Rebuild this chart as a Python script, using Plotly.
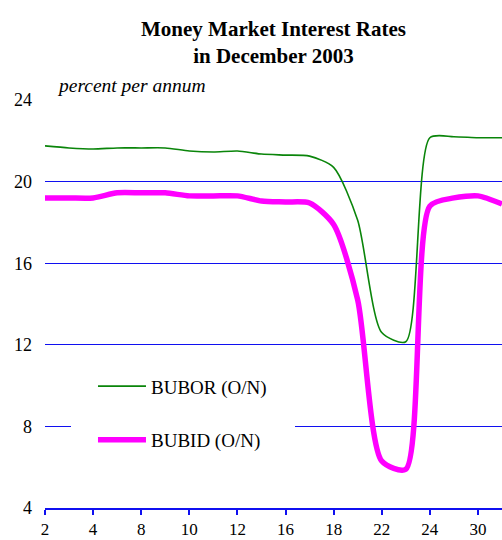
import plotly.graph_objects as go

# Business days of December 2003 (category axis)
days = [2, 3, 4, 5, 8, 9, 10, 11, 12, 15, 16, 17, 18, 19, 22, 23, 24, 29, 30, 31]
bubor = [21.75, 21.65, 21.6, 21.65, 21.65, 21.65, 21.5, 21.45, 21.5, 21.35,
         21.3, 21.25, 20.7, 18.1, 12.6, 12.15, 22.15, 22.2, 22.15, 22.15]
bubid = [19.2, 19.2, 19.2, 19.45, 19.45, 19.45, 19.3, 19.3, 19.3, 19.05,
         19.0, 18.95, 17.9, 14.2, 6.3, 5.9, 18.8, 19.2, 19.3, 18.9]
tick_days = [2, 4, 8, 10, 12, 16, 18, 22, 24, 30]
y_ticks = [4, 8, 12, 16, 20, 24]

pos = list(range(len(days)))
tick_pos = [days.index(d) for d in tick_days]

SERIF = "Liberation Serif, Times New Roman, serif"
BLUE = "#1010f0"

fig = go.Figure()
fig.add_trace(go.Scatter(
    x=pos, y=bubor, mode="lines", name="BUBOR (O/N)", legendgroup="a",
    line=dict(color="#0a850a", width=1.6, shape="spline", smoothing=0.7),
))
fig.add_trace(go.Scatter(
    x=pos, y=bubid, mode="lines", name="BUBID (O/N)", legendgroup="b",
    line=dict(color="#ff00ff", width=5.5, shape="spline", smoothing=0.7),
))

fig.update_layout(
    width=502, height=540,
    margin=dict(l=45, r=0, t=100, b=32),
    paper_bgcolor="white", plot_bgcolor="white",
    font=dict(family=SERIF, color="black", size=18),
    showlegend=True,
    legend=dict(
        x=0.105, y=0.345, xanchor="left", yanchor="top",
        bgcolor="rgba(0,0,0,0)", borderwidth=0,
        font=dict(family=SERIF, size=19, color="black"),
        itemwidth=48, tracegroupgap=26, traceorder="grouped",
    ),
    xaxis=dict(
        range=[0, len(days) - 1], tickmode="array",
        tickvals=tick_pos, ticktext=[str(d) for d in tick_days],
        showgrid=False, zeroline=False,
        showline=True, linecolor=BLUE, linewidth=2,
        ticks="outside", ticklen=5, tickwidth=2, tickcolor=BLUE,
        tickfont=dict(family=SERIF, size=17, color="black"),
        automargin=False,
    ),
    yaxis=dict(
        range=[4, 24], tickmode="array", tickvals=y_ticks,
        showgrid=True, gridcolor=BLUE, gridwidth=1,
        zeroline=False, showline=False, ticks="",
        ticklabelstandoff=12,
        tickfont=dict(family=SERIF, size=18, color="black"),
        automargin=False,
    ),
    shapes=[dict(
        type="rect", xref="paper", yref="paper", layer="above",
        x0=(71 - 45) / 457, x1=(295 - 45) / 457,
        y0=(508 - 470) / 408, y1=(508 - 352) / 408,
        fillcolor="white", line=dict(width=0),
    )],
    annotations=[
        dict(text="<b>Money Market Interest Rates<br>in December 2003</b>",
             xref="paper", yref="paper", x=0.5, y=(508 - 42.5) / 408,
             xanchor="center", yanchor="middle", showarrow=False,
             font=dict(family=SERIF, size=21, color="black")),
        dict(text="<i>percent per annum</i>",
             xref="paper", yref="paper", x=(55 - 45) / 457, y=(508 - 86) / 408,
             xanchor="left", yanchor="middle", showarrow=False,
             font=dict(family=SERIF, size=19.5, color="black")),
    ],
)

fig.write_html(
    "out.html",
    config={"displayModeBar": False},
    post_script="document.body.style.margin='0';document.body.style.overflow='hidden';",
)
